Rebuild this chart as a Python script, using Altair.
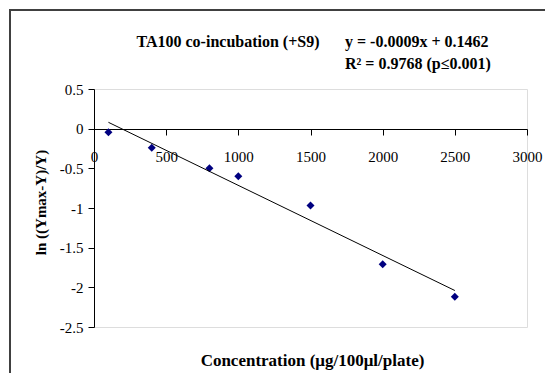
import altair as alt
import pandas as pd

conc = [100, 400, 800, 1000, 1500, 2000, 2500]
lnval = [-0.045, -0.24, -0.50, -0.60, -0.97, -1.71, -2.12]
trend_x = [100, 2500]
trend_y = [0.08, -2.04]
x_ticks = [0, 500, 1000, 1500, 2000, 2500, 3000]
y_ticks = [0.5, 0, -0.5, -1, -1.5, -2, -2.5]

title_text = "TA100 co-incubation (+S9)"
eq_line1 = "y = -0.0009x + 0.1462"
eq_line2 = "R² = 0.9768 (p≤0.001)"

W, H = 433, 238
FONT = "Liberation Serif"

pts = pd.DataFrame({"x": conc, "y": lnval})
trend = pd.DataFrame({"x": trend_x, "y": trend_y})

xscale = alt.Scale(domain=[0, 3000], nice=False, zero=False)
yscale = alt.Scale(domain=[-2.5, 0.5], nice=False, zero=False)

xaxis = alt.Axis(
    values=x_ticks, grid=False, orient="bottom", offset=-198,
    domainColor="black", ticks=True, tickColor="black", tickSize=6, tickWidth=1,
    labelPadding=14, labelFont=FONT, labelFontSize=15, labelColor="black",
    labelExpr="datum.value + ''", labelFlush=False, labelOverlap=False,
    title="Concentration (μg/100μl/plate)", titleFont=FONT, titleFontSize=17,
    titleFontWeight="bold", titleColor="black",
    titleX=218, titleY=231, titleBaseline="middle", titleAlign="center",
)
yaxis = alt.Axis(
    values=y_ticks, grid=False, orient="left", domainColor="black", ticks=True,
    tickColor="black", tickSize=6, tickWidth=1, labelPadding=5,
    labelFont=FONT, labelFontSize=15, labelColor="black",
    labelExpr="datum.value + ''", labelOverlap=False, labelFlush=False,
    title="ln ((Ymax-Y)/Y)", titleFont=FONT, titleFontSize=15,
    titleFontWeight="bold", titleColor="black", titleAngle=-90,
    titleX=-54, titleY=113, titleAlign="center", titleBaseline="middle",
)

points = alt.Chart(pts).mark_point(
    shape="diamond", filled=True, color="#000080", size=64, opacity=1
).encode(
    x=alt.X("x:Q", scale=xscale, axis=xaxis),
    y=alt.Y("y:Q", scale=yscale, axis=yaxis),
)

line = alt.Chart(trend).mark_line(color="black", strokeWidth=1).encode(
    x=alt.X("x:Q", scale=xscale, axis=xaxis),
    y=alt.Y("y:Q", scale=yscale, axis=yaxis),
)

border = alt.Chart(pd.DataFrame({"a": [0]})).mark_rect(
    fill=None, stroke="#404040", strokeWidth=2, clip=False
).encode(
    x=alt.value(-84), x2=alt.value(470), y=alt.value(-79), y2=alt.value(293)
)

def label(txt, x, y, align):
    return alt.Chart(pd.DataFrame({"t": [txt]})).mark_text(
        font=FONT, fontSize=16, fontWeight="bold", align=align,
        baseline="middle", color="black"
    ).encode(text="t:N", x=alt.value(x), y=alt.value(y))

ttl = label(title_text, 134, -47, "center")
eq1 = label(eq_line1, 251, -47, "left")
eq2 = label(eq_line2, 251, -25, "left")

chart = alt.layer(border, points, line, ttl, eq1, eq2).properties(
    width=W, height=H,
    autosize=alt.AutoSizeParams(type="none"),
    padding={"left": 86, "top": 81, "right": 18, "bottom": 46},
).configure_view(stroke=None).configure(background="white")

chart.save("out.html", embed_options={"renderer": "svg", "actions": False})
